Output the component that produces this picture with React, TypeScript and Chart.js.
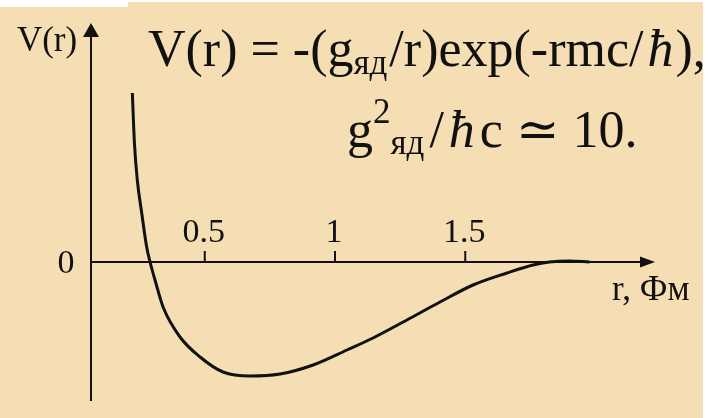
import React, { useEffect, useRef } from "react";
import { Chart, registerables } from "chart.js";

Chart.register(...registerables);

// ---- data ----
const rValues = [0.222, 0.230, 0.241, 0.258, 0.277, 0.290, 0.309, 0.340, 0.405, 0.482, 0.570, 0.674, 0.789, 0.916, 1.046, 1.146, 1.276, 1.403, 1.530, 1.660, 1.760, 1.823, 1.900, 1.977];
const vValues = [1.69, 1.19, 0.82, 0.49, 0.15, 0.0, -0.18, -0.45, -0.75, -0.95, -1.10, -1.14, -1.12, -1.03, -0.88, -0.76, -0.58, -0.40, -0.23, -0.11, -0.03, 0.0, 0.01, 0.0];
const xTickValues = [0.5, 1, 1.5];
const xTickLabels = ["0.5", "1", "1.5"];
const yTickValues = [0];
const yTickLabels = ["0"];
const xMin = 0.0633;
const xMax = 2.2284;
const yMin = -1.39;
const yMax = 2.39;
const yAxisTitle = "V(r)";
const xAxisTitle = "r, Фм";
const formulaLine1 = [
  { text: "V(r) = -(g", kind: "main" },
  { text: "яд", kind: "sub" },
  { text: "/r)exp(-rmc/", kind: "main" },
  { text: "ħ", kind: "hbar" },
  { text: "),", kind: "main" },
];
const formulaLine2 = [
  { text: "g", kind: "main" },
  { text: "2", kind: "sup" },
  { text: "яд", kind: "sub" },
  { text: "/", kind: "main" },
  { text: "ħ", kind: "hbar" },
  { text: "c ≃ 10.", kind: "main" },
];

const BG = "#F5DEB3";
const INK = "#111111";
const SERIF = '"Liberation Serif", "DejaVu Serif", serif';

function drawFormula(
  ctx: CanvasRenderingContext2D,
  parts: { text: string; kind: string }[],
  x0: number,
  base: number,
  gaps: number[],
  subDrop: number
) {
  let x = x0;
  parts.forEach((p, i) => {
    let font = `52px ${SERIF}`;
    let y = base;
    if (p.kind === "sub") { font = `35px ${SERIF}`; y = base + subDrop; }
    if (p.kind === "sup") { font = `35px ${SERIF}`; y = base - 24; }
    if (p.kind === "hbar") { font = `italic 52px ${SERIF}`; }
    ctx.font = font;
    ctx.fillText(p.text, x, y);
    x += ctx.measureText(p.text).width + (gaps[i] || 0);
  });
}

const decorPlugin = {
  id: "decor",
  beforeDraw(chart: any) {
    const ctx: CanvasRenderingContext2D = chart.ctx;
    ctx.save();
    ctx.fillStyle = "#ffffff";
    ctx.fillRect(0, 0, chart.width, chart.height);
    ctx.fillStyle = BG;
    ctx.fillRect(0, 2, 703, chart.height - 2);
    ctx.fillStyle = "#ffffff";
    ctx.fillRect(0, 0, 128, 7);
    ctx.restore();
  },
  beforeDatasetsDraw(chart: any) {
    const ctx: CanvasRenderingContext2D = chart.ctx;
    const xs = chart.scales.x;
    const ys = chart.scales.y;
    const area = chart.chartArea;
    const y0 = ys.getPixelForValue(0);
    const xl = xs.getPixelForValue(xMin);
    const xr = xs.getPixelForValue(xMax);
    ctx.save();
    ctx.strokeStyle = INK;
    ctx.fillStyle = INK;
    ctx.lineWidth = 2;
    // x axis
    ctx.beginPath();
    ctx.moveTo(xl, y0);
    ctx.lineTo(xr - 12, y0);
    ctx.stroke();
    ctx.beginPath();
    ctx.moveTo(xr, y0);
    ctx.lineTo(xr - 15, y0 - 5.5);
    ctx.lineTo(xr - 15, y0 + 5.5);
    ctx.closePath();
    ctx.fill();
    // y axis
    ctx.beginPath();
    ctx.moveTo(xl, area.bottom);
    ctx.lineTo(xl, area.top + 10);
    ctx.stroke();
    ctx.beginPath();
    ctx.moveTo(xl, area.top);
    ctx.lineTo(xl - 8, area.top + 14);
    ctx.lineTo(xl + 8, area.top + 14);
    ctx.closePath();
    ctx.fill();
    // ticks
    ctx.font = `34px ${SERIF}`;
    ctx.textAlign = "center";
    ctx.textBaseline = "alphabetic";
    xTickValues.forEach((v, i) => {
      const px = xs.getPixelForValue(v);
      ctx.beginPath();
      ctx.moveTo(px, y0);
      ctx.lineTo(px, y0 - 11);
      ctx.stroke();
      ctx.fillText(xTickLabels[i], px - 1, y0 - 20);
    });
    yTickValues.forEach((v, i) => {
      const py = ys.getPixelForValue(v);
      ctx.fillText(yTickLabels[i], xl - 25, py + 11);
    });
    // axis titles
    ctx.font = `35px ${SERIF}`;
    ctx.fillText(yAxisTitle, xl - 44, area.top + 28);
    ctx.textAlign = "left";
    ctx.fillText(xAxisTitle, xr - 43, y0 + 38);
    ctx.restore();
  },
  afterDatasetsDraw(chart: any) {
    const ctx: CanvasRenderingContext2D = chart.ctx;
    ctx.save();
    ctx.fillStyle = INK;
    ctx.textAlign = "left";
    ctx.textBaseline = "alphabetic";
    drawFormula(ctx, formulaLine1, 148, 66, [0, 2, 4, 2, 0], 8);
    drawFormula(ctx, formulaLine2, 347, 147, [0, 0, 5, 5, 5, 0], 7);
    ctx.restore();
  },
};

export default function App() {
  const ref = useRef<HTMLCanvasElement | null>(null);
  useEffect(() => {
    document.body.style.margin = "0";
    const canvas = ref.current;
    if (!canvas) return;
    const chart = new Chart(canvas, {
      type: "line",
      data: {
        datasets: [
          {
            data: rValues.map((r, i) => ({ x: r, y: vValues[i] })),
            borderColor: INK,
            borderWidth: 3,
            pointRadius: 0,
            fill: false,
            cubicInterpolationMode: "monotone",
          },
        ],
      },
      options: {
        animation: false,
        responsive: false,
        devicePixelRatio: 1,
        layout: { padding: { left: 91, right: 56, top: 23, bottom: 17 } },
        scales: {
          x: { type: "linear", min: xMin, max: xMax, display: false },
          y: { type: "linear", min: yMin, max: yMax, display: false },
        },
        plugins: { legend: { display: false }, tooltip: { enabled: false } },
      },
      plugins: [decorPlugin],
    } as any);
    return () => chart.destroy();
  }, []);
  return (
    <div style={{ width: 711, height: 418 }}>
      <canvas ref={ref} width={711} height={418} style={{ display: "block" }} />
    </div>
  );
}
